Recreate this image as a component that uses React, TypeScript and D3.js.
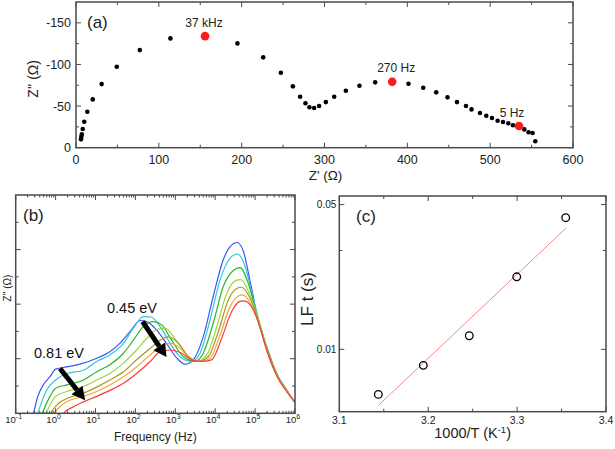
import { scaleLinear, scaleLog, line, curveMonotoneX, range } from 'd3'

// (a) Nyquist — Z' and Z'' (ohm)
const nyqRe = [6, 6.4, 7, 8.1, 10, 13.7, 20.2, 31, 49.2, 77, 114, 155.8, 194.9, 226, 247.3, 261.8, 270.6, 277, 281.8, 287.5, 293.5, 301.6, 311.7, 325.8, 342.2, 361.2, 381.7, 401.4, 419.2, 434.9, 448.5, 459.9, 470.8, 477.5, 487.7, 495.3, 502.2, 509, 515.5, 521.9, 527.5, 534.8, 541.2, 546.4, 551.2, 554.5]
const nyqIm = [-10, -13, -16, -22.4, -31.2, -43.2, -58, -76.4, -97.2, -117.2, -131.3, -134, -125.3, -108.5, -90, -73.7, -61.2, -53.3, -48.5, -47.6, -50, -54.8, -61.2, -68.4, -74.4, -78.5, -79.2, -76.8, -72, -66.5, -60.5, -54.8, -50, -46, -41.6, -38.4, -35.6, -32.4, -30.8, -29.3, -26.9, -26, -22, -18.5, -17.6, -7.7]
const markRe = [155.8, 381.7, 534.8]
const markIm = [-134, -79.2, -26]
const markText = ['37 kHz', '270 Hz', '5 Hz']
const aXTicks = [0, 100, 200, 300, 400, 500, 600]
const aYTicks = [0, -50, -100, -150]

// (b) Z'' spectra, [log10 f, Z''] in arbitrary units, hottest (red) lowest
const zBlue = [[-0.62, -0.1], [-0.56, 0], [-0.45, 0.3], [-0.31, 0.52], [-0.14, 0.67], [0, 0.81], [0.28, 0.85], [0.61, 0.9], [1.03, 1.01], [1.36, 1.13], [1.61, 1.28], [1.87, 1.5], [2.12, 1.7], [2.28, 1.68], [2.53, 1.53], [2.78, 1.28], [3.04, 1.01], [3.24, 0.9], [3.45, 0.98], [3.7, 1.4], [3.95, 2.14], [4.2, 2.81], [4.46, 3.11], [4.55, 3.13], [4.71, 2.96], [4.87, 2.44], [5.04, 1.83], [5.29, 1.22], [5.54, 0.73], [5.79, 0.43], [6, 0.2]]
const zCyan = [[-0.5, -0.1], [-0.45, 0], [-0.22, 0.43], [0, 0.61], [0.28, 0.73], [0.7, 0.79], [1.03, 0.95], [1.36, 1.07], [1.7, 1.28], [1.95, 1.56], [2.2, 1.77], [2.41, 1.76], [2.62, 1.59], [2.87, 1.28], [3.16, 1.01], [3.41, 0.95], [3.62, 1.1], [3.87, 1.71], [4.12, 2.44], [4.37, 2.84], [4.56, 2.92], [4.75, 2.69], [4.96, 2.08], [5.29, 1.21], [5.54, 0.72], [5.79, 0.42], [6, 0.2]]
const zGreen = [[-0.38, -0.1], [-0.33, 0], [-0.14, 0.31], [0, 0.46], [0.28, 0.52], [0.7, 0.61], [1.03, 0.76], [1.36, 0.89], [1.7, 1.1], [1.95, 1.34], [2.2, 1.59], [2.45, 1.68], [2.66, 1.62], [2.91, 1.34], [3.2, 1.04], [3.49, 0.95], [3.7, 1.1], [3.95, 1.65], [4.2, 2.32], [4.46, 2.62], [4.62, 2.67], [4.83, 2.38], [5.04, 1.8], [5.29, 1.2], [5.54, 0.72], [5.79, 0.42], [6, 0.2]]
const zLime = [[-0.3, -0.1], [-0.24, 0], [0, 0.31], [0.28, 0.4], [0.7, 0.49], [1.03, 0.61], [1.36, 0.73], [1.7, 0.92], [2.03, 1.16], [2.28, 1.37], [2.53, 1.53], [2.74, 1.56], [2.99, 1.37], [3.29, 1.07], [3.54, 0.95], [3.79, 1.07], [4.04, 1.59], [4.29, 2.2], [4.54, 2.44], [4.64, 2.45], [4.87, 2.17], [5.08, 1.72], [5.29, 1.19], [5.54, 0.71], [5.79, 0.42], [6, 0.2]]
const zOlive = [[-0.18, -0.1], [-0.12, 0], [0.07, 0.18], [0.28, 0.27], [0.7, 0.37], [1.03, 0.48], [1.36, 0.61], [1.7, 0.76], [2.03, 0.98], [2.37, 1.19], [2.62, 1.34], [2.83, 1.4], [3.08, 1.28], [3.33, 1.04], [3.58, 0.95], [3.83, 1.04], [4.08, 1.5], [4.33, 2.08], [4.55, 2.29], [4.66, 2.31], [4.89, 2.08], [5.1, 1.65], [5.29, 1.18], [5.54, 0.7], [5.79, 0.41], [6, 0.2]]
const zOrange = [[-0.08, -0.1], [-0.02, 0], [0.15, 0.15], [0.36, 0.24], [0.7, 0.31], [1.03, 0.4], [1.36, 0.52], [1.7, 0.67], [2.03, 0.85], [2.37, 1.07], [2.7, 1.25], [2.91, 1.28], [3.12, 1.19], [3.37, 1.01], [3.62, 0.95], [3.87, 1.01], [4.12, 1.43], [4.37, 1.95], [4.58, 2.15], [4.69, 2.17], [4.91, 1.98], [5.1, 1.62], [5.29, 1.17], [5.54, 0.7], [5.79, 0.41], [6, 0.2]]
const zRed = [[0.14, -0.1], [0.2, 0], [0.45, 0.12], [0.7, 0.21], [1.03, 0.31], [1.36, 0.42], [1.7, 0.55], [2.03, 0.73], [2.37, 0.95], [2.62, 1.13], [2.87, 1.16], [3.16, 1.1], [3.41, 0.98], [3.66, 0.95], [3.91, 0.98], [4.16, 1.37], [4.41, 1.86], [4.62, 2.05], [4.72, 2.06], [4.96, 1.89], [5.12, 1.58], [5.29, 1.15], [5.54, 0.69], [5.79, 0.4], [6, 0.2]]
const spectra = [zBlue, zCyan, zGreen, zLime, zOlive, zOrange, zRed]
const spectraColors = ['#3d55f5', '#2ec9d9', '#2ab52a', '#9ad83a', '#a8962a', '#f0a830', '#f53c3c']
const bDecades = [-1, 0, 1, 2, 3, 4, 5, 6]
// arrows: [log f, Z''] start -> tip
const arrowLow = [[0.11, 0.82], [0.74, 0.24]]
const arrowMid = [[2.18, 1.68], [2.78, 1.03]]

// (c) Arrhenius
const invT = [3.1439, 3.1945, 3.2462, 3.2996, 3.3547]
const tauLF = [0.00606, 0.00837, 0.01163, 0.0224, 0.0432]
const fitX = [3.1439, 3.3547]
const fitY = [0.00536, 0.0384]
const cXTicks = [3.1, 3.2, 3.3, 3.4]
const cYTicks = [0.01, 0.05]
const cYMinor = [0.03]

const FONT = '"Liberation Sans", Arial, Helvetica, sans-serif'
const AXIS = '#4a4a4a'

const A = { l: 76, r: 573, t: 2, b: 147.7 }
const B = { l: 15.7, r: 295, t: 195, b: 413.3 }
const C = { l: 339.3, r: 606, t: 196, b: 411.7 }

function Frame({ box }: { box: { l: number; r: number; t: number; b: number } }) {
  return <rect x={box.l} y={box.t} width={box.r - box.l} height={box.b - box.t} fill="none" stroke={AXIS} strokeWidth={1.5} />
}

function XTicks({ xs, box, len }: { xs: number[]; box: { l: number; r: number; t: number; b: number }; len: number }) {
  return (
    <g stroke={AXIS} strokeWidth={1}>
      {xs.map((x, i) => (
        <g key={i}>
          <line x1={x} x2={x} y1={box.b} y2={box.b - len} />
          <line x1={x} x2={x} y1={box.t} y2={box.t + len} />
        </g>
      ))}
    </g>
  )
}

function YTicks({ ys, box, len }: { ys: number[]; box: { l: number; r: number; t: number; b: number }; len: number }) {
  return (
    <g stroke={AXIS} strokeWidth={1}>
      {ys.map((y, i) => (
        <g key={i}>
          <line x1={box.l} x2={box.l + len} y1={y} y2={y} />
          <line x1={box.r} x2={box.r - len} y1={y} y2={y} />
        </g>
      ))}
    </g>
  )
}

function Arrow({ x1, y1, x2, y2 }: { x1: number; y1: number; x2: number; y2: number }) {
  const ang = Math.atan2(y2 - y1, x2 - x1)
  const headL = 13
  const headW = 7
  const bx = x2 - headL * Math.cos(ang)
  const by = y2 - headL * Math.sin(ang)
  const px = -Math.sin(ang) * headW
  const py = Math.cos(ang) * headW
  return (
    <g>
      <line x1={x1} y1={y1} x2={bx} y2={by} stroke="#000" strokeWidth={5} />
      <polygon points={`${x2},${y2} ${bx + px},${by + py} ${bx - px},${by - py}`} fill="#000" />
    </g>
  )
}

export default function App() {
  // ---- (a)
  const ax = scaleLinear().domain([0, 600]).range([A.l, A.r])
  const ay = scaleLinear().domain([0, -175]).range([A.b, A.t])

  // ---- (b)
  const bx = scaleLog().domain([0.1, 1e6]).range([B.l, B.r])
  const by = scaleLinear().domain([0, 4]).range([B.b, B.t])
  const bLine = line<number[]>()
    .x((d) => bx(Math.pow(10, d[0])))
    .y((d) => by(d[1]))
    .curve(curveMonotoneX)
  const bMinor: number[] = []
  bDecades.slice(0, -1).forEach((e) => range(2, 10).forEach((m) => bMinor.push(m * Math.pow(10, e))))

  // ---- (c)
  const cx = scaleLinear().domain([3.1, 3.4]).range([C.l, C.r])
  const cy = scaleLog().domain([0.005, 0.055]).range([C.b, C.t])

  const arrowPts = (a: number[][]) => ({
    x1: bx(Math.pow(10, a[0][0])),
    y1: by(a[0][1]),
    x2: bx(Math.pow(10, a[1][0])),
    y2: by(a[1][1]),
  })

  return (
    <svg width={615} height={449} viewBox="0 0 615 449" style={{ position: 'absolute', left: 0, top: 0, background: '#fff' }} fontFamily={FONT}>
      {/* ---------- (a) ---------- */}
      <g>
        <XTicks xs={aXTicks.map(ax)} box={A} len={5} />
        <XTicks xs={range(50, 600, 100).map(ax)} box={A} len={3} />
        <YTicks ys={aYTicks.map(ay)} box={A} len={5} />
        <YTicks ys={[-25, -75, -125].map(ay)} box={A} len={3} />
        <Frame box={A} />
        {aXTicks.map((t) => (
          <text key={t} x={ax(t)} y={A.b + 16} textAnchor="middle" fontSize={12.5} fill="#222">
            {t}
          </text>
        ))}
        {aYTicks.map((t) => (
          <text key={t} x={A.l - 5} y={ay(t) + 4.5} textAnchor="end" fontSize={12.5} fill="#222">
            {t}
          </text>
        ))}
        <text x={(A.l + A.r) / 2 + 1} y={180} textAnchor="middle" fontSize={13.5} fill="#222">
          Z' (Ω)
        </text>
        <text transform={`translate(38, ${(A.t + A.b) / 2 + 4}) rotate(-90)`} textAnchor="middle" fontSize={14} fill="#222">
          Z'' (Ω)
        </text>
        <text x={87} y={28} fontSize={17} fill="#222">
          (a)
        </text>
        {nyqRe.map((x, i) => (
          <circle key={i} cx={ax(x)} cy={ay(nyqIm[i])} r={2.3} fill="#000" />
        ))}
        {markRe.map((x, i) => (
          <g key={i}>
            <circle cx={ax(x)} cy={ay(markIm[i])} r={4.3} fill="#ff1a1a" />
            <text x={ax(x) + [-1, 4, -7][i]} y={ay(markIm[i]) + [-9, -10, -9][i]} textAnchor="middle" fontSize={12} fill="#222">
              {markText[i]}
            </text>
          </g>
        ))}
      </g>

      {/* ---------- (b) ---------- */}
      <g>
        <defs>
          <clipPath id="clipB">
            <rect x={B.l} y={B.t} width={B.r - B.l} height={B.b - B.t} />
          </clipPath>
        </defs>
        <g clipPath="url(#clipB)">
          {spectra.map((s, i) => (
            <path key={i} d={bLine(s) ?? ''} fill="none" stroke={spectraColors[i]} strokeWidth={1.2} />
          ))}
        </g>
        <XTicks xs={bDecades.map((e) => bx(Math.pow(10, e)))} box={B} len={5} />
        <XTicks xs={bMinor.map(bx)} box={B} len={2.5} />
        <YTicks ys={[1, 2, 3].map(by)} box={B} len={5} />
        <YTicks ys={[0.5, 1.5, 2.5, 3.5].map(by)} box={B} len={3} />
        <Frame box={B} />
        {bDecades.map((e) => (
          <text key={e} x={bx(Math.pow(10, e)) - 2} y={B.b + 10} textAnchor="middle" fontSize={9.5} fill="#222">
            10
            <tspan dy={-4} fontSize={7}>
              {e}
            </tspan>
          </text>
        ))}
        <text x={(B.l + B.r) / 2} y={441} textAnchor="middle" fontSize={12} fill="#222">
          Frequency (Hz)
        </text>
        <text transform={`translate(11, 288) rotate(-90)`} textAnchor="middle" fontSize={10} fill="#222">
          Z'' (Ω)
        </text>
        <text x={23} y={221} fontSize={17} fill="#222">
          (b)
        </text>
        <text x={59} y={358} textAnchor="middle" fontSize={14.5} fill="#111">
          0.81 eV
        </text>
        <text x={132} y={313} textAnchor="middle" fontSize={14.5} fill="#111">
          0.45 eV
        </text>
        <Arrow {...arrowPts(arrowLow)} />
        <Arrow {...arrowPts(arrowMid)} />
      </g>

      {/* ---------- (c) ---------- */}
      <g>
        <XTicks xs={cXTicks.map(cx)} box={C} len={5} />
        <XTicks xs={[3.15, 3.25, 3.35].map(cx)} box={C} len={3} />
        <YTicks ys={cYTicks.map(cy)} box={C} len={5} />
        <YTicks ys={cYMinor.map(cy)} box={C} len={3} />
        <Frame box={C} />
        {cXTicks.map((t) => (
          <text key={t} x={cx(t)} y={C.b + 12} textAnchor="middle" fontSize={10.5} fill="#222">
            {t.toFixed(1)}
          </text>
        ))}
        {cYTicks.map((t) => (
          <text key={t} x={C.l - 3} y={cy(t) + 3.5} textAnchor="end" fontSize={10} fill="#222">
            {t.toFixed(2)}
          </text>
        ))}
        <text x={(C.l + C.r) / 2} y={438} textAnchor="middle" fontSize={14.5} fill="#222">
          1000/T (K
          <tspan dy={-5} fontSize={9.5}>
            -1
          </tspan>
          <tspan dy={5}>)</tspan>
        </text>
        <text transform={`translate(313, 299) rotate(-90)`} textAnchor="middle" fontSize={17} fill="#222">
          LF t (s)
        </text>
        <text x={356} y={222} fontSize={17} fill="#222">
          (c)
        </text>
        <line x1={cx(fitX[0])} y1={cy(fitY[0])} x2={cx(fitX[1])} y2={cy(fitY[1])} stroke="#f08a8a" strokeWidth={1} />
        {invT.map((x, i) => (
          <circle key={i} cx={cx(x)} cy={cy(tauLF[i])} r={3.8} fill="none" stroke="#000" strokeWidth={1.3} />
        ))}
      </g>
    </svg>
  )
}
